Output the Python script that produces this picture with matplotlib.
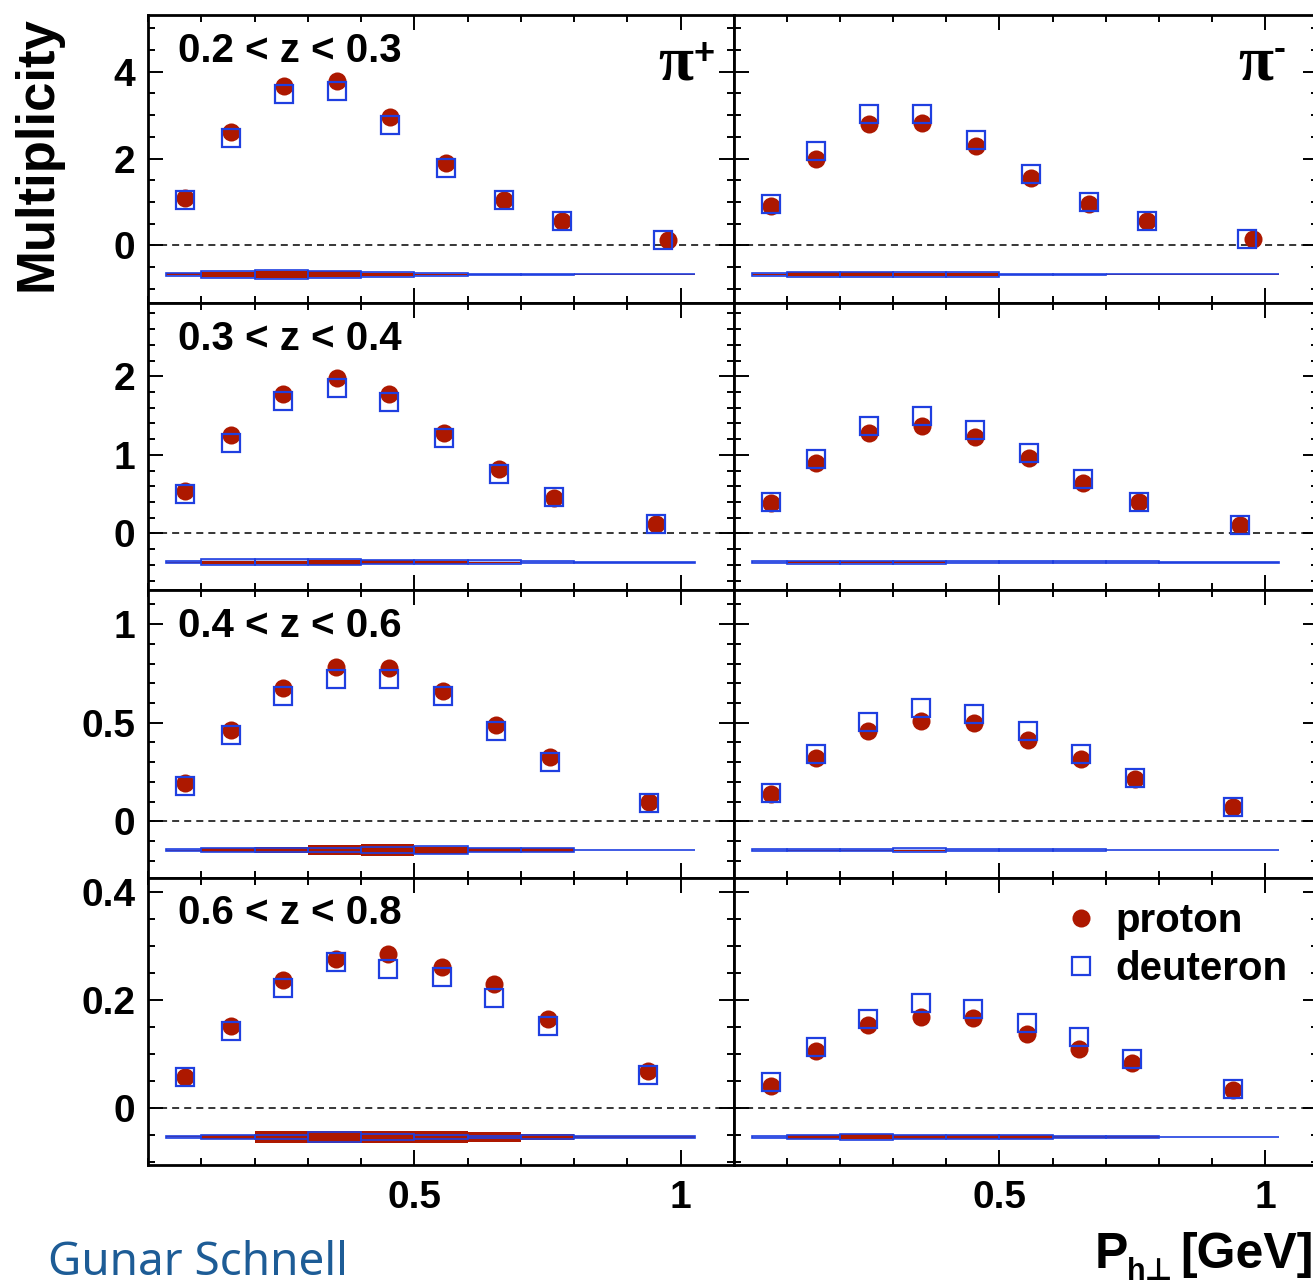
import matplotlib
matplotlib.use("Agg")
import matplotlib.pyplot as plt
from matplotlib.patches import Rectangle
from matplotlib.ticker import MultipleLocator, FixedLocator

plt.rcParams['font.family'] = ['Liberation Sans', 'DejaVu Sans']
plt.rcParams['font.weight'] = 'bold'

# ---------------- data ----------------
z_labels = ["0.2 < z < 0.3", "0.3 < z < 0.4", "0.4 < z < 0.6", "0.6 < z < 0.8"]
hadron_sign = ["+", "-"]

# mean P_h_perp per bin (proton / deuteron), one list per z-row
x_proton = [
    [0.070, 0.155, 0.255, 0.355, 0.455, 0.560, 0.668, 0.778, 0.977],
    [0.069, 0.155, 0.254, 0.354, 0.453, 0.556, 0.658, 0.762, 0.953],
    [0.069, 0.155, 0.253, 0.353, 0.452, 0.553, 0.654, 0.755, 0.940],
    [0.069, 0.155, 0.253, 0.352, 0.451, 0.551, 0.650, 0.750, 0.939],
]
x_deuteron = [
    [0.070, 0.155, 0.255, 0.355, 0.455, 0.560, 0.668, 0.778, 0.966],
    [0.069, 0.155, 0.254, 0.354, 0.453, 0.556, 0.658, 0.762, 0.953],
    [0.069, 0.155, 0.253, 0.353, 0.452, 0.553, 0.654, 0.755, 0.940],
    [0.069, 0.155, 0.253, 0.352, 0.451, 0.551, 0.650, 0.750, 0.939],
]

# multiplicities, pi+
pip_proton = [
    [1.10, 2.62, 3.68, 3.79, 2.95, 1.90, 1.04, 0.56, 0.13],
    [0.54, 1.255, 1.774, 1.979, 1.779, 1.277, 0.821, 0.455, 0.123],
    [0.193, 0.464, 0.676, 0.783, 0.776, 0.661, 0.490, 0.327, 0.097],
    [0.057, 0.152, 0.237, 0.275, 0.285, 0.260, 0.230, 0.165, 0.069],
]
pip_deuteron = [
    [1.04, 2.48, 3.49, 3.56, 2.77, 1.79, 1.04, 0.56, 0.13],
    [0.498, 1.157, 1.685, 1.847, 1.668, 1.213, 0.762, 0.460, 0.119],
    [0.181, 0.436, 0.634, 0.724, 0.724, 0.634, 0.456, 0.300, 0.093],
    [0.058, 0.143, 0.221, 0.270, 0.257, 0.242, 0.204, 0.151, 0.062],
]
# multiplicities, pi-
pim_proton = [
    [0.91, 1.99, 2.79, 2.81, 2.29, 1.55, 0.95, 0.55, 0.14],
    [0.383, 0.894, 1.277, 1.362, 1.226, 0.957, 0.638, 0.396, 0.106],
    [0.136, 0.320, 0.459, 0.507, 0.498, 0.410, 0.314, 0.215, 0.071],
    [0.041, 0.106, 0.154, 0.169, 0.166, 0.137, 0.109, 0.083, 0.033],
]
pim_deuteron = [
    [0.94, 2.17, 3.02, 3.02, 2.42, 1.64, 1.00, 0.56, 0.15],
    [0.396, 0.945, 1.362, 1.498, 1.319, 1.021, 0.689, 0.396, 0.111],
    [0.142, 0.341, 0.502, 0.573, 0.544, 0.456, 0.339, 0.222, 0.075],
    [0.048, 0.113, 0.165, 0.194, 0.183, 0.157, 0.131, 0.091, 0.036],
]

# systematic uncertainty bands (half-heights) per P_h_perp bin
bin_edges = [0.034, 0.1, 0.2, 0.3, 0.4, 0.5, 0.6, 0.7, 0.8, 1.026]
pip_sys_proton = [
    [0.023, 0.058, 0.081, 0.069, 0.035, 0.012, 0.012, 0.006, 0.006],
    [0.006, 0.019, 0.019, 0.032, 0.026, 0.019, 0.006, 0.003, 0.003],
    [0.0025, 0.010, 0.015, 0.025, 0.030, 0.018, 0.010, 0.010, 0.001],
    [0.001, 0.0037, 0.011, 0.011, 0.011, 0.011, 0.0093, 0.0056, 0.0019],
]
pip_sys_deuteron = [
    [0.029, 0.075, 0.098, 0.075, 0.064, 0.029, 0.017, 0.017, 0.004],
    [0.010, 0.035, 0.042, 0.035, 0.029, 0.022, 0.022, 0.010, 0.004],
    [0.004, 0.011, 0.009, 0.011, 0.017, 0.019, 0.011, 0.009, 0.0015],
    [0.0014, 0.0042, 0.0032, 0.0088, 0.006, 0.0032, 0.0023, 0.0042, 0.0014],
]
pim_sys_proton = [
    [0.017, 0.046, 0.046, 0.035, 0.035, 0.012, 0.012, 0.006, 0.006],
    [0.003, 0.013, 0.013, 0.013, 0.003, 0.003, 0.003, 0.003, 0.003],
    [0.001, 0.0025, 0.0025, 0.0025, 0.001, 0.001, 0.001, 0.001, 0.001],
    [0.0005, 0.0037, 0.0046, 0.0037, 0.0037, 0.0037, 0.0019, 0.0019, 0.0005],
]
pim_sys_deuteron = [
    [0.029, 0.052, 0.052, 0.052, 0.052, 0.017, 0.017, 0.004, 0.004],
    [0.010, 0.020, 0.020, 0.020, 0.016, 0.016, 0.010, 0.010, 0.004],
    [0.004, 0.006, 0.006, 0.009, 0.004, 0.004, 0.004, 0.0015, 0.0015],
    [0.0014, 0.0042, 0.0051, 0.0042, 0.0042, 0.0042, 0.0023, 0.0023, 0.0006],
]
band_center = [-0.67, -0.366, -0.146, -0.053]

y_limits = [(-1.32, 5.31), (-0.72, 2.94), (-0.285, 1.173), (-0.105, 0.426)]
y_major = [[0, 2, 4], [0, 1, 2], [0, 0.5, 1], [0, 0.2, 0.4]]
y_major_labels = [["0", "2", "4"], ["0", "1", "2"], ["0", "0.5", "1"], ["0", "0.2", "0.4"]]
y_minor_step = [0.5, 0.2, 0.1, 0.05]
x_major = [0.5, 1.0]
x_major_labels = ["0.5", "1"]

RED = '#ad1800'
BLUE = '#1f3fe0'
LIGHTBLUE = '#a9b6f2'

# ---------------- layout ----------------
FW, FH = 1313, 1286
fig = plt.figure(figsize=(FW / 100, FH / 100), dpi=100)
col_left = [148, 734]
col_width = [586, 584]
top0 = 15
row_h = 287.5

data_p = [pip_proton, pim_proton]
data_d = [pip_deuteron, pim_deuteron]
sys_p = [pip_sys_proton, pim_sys_proton]
sys_d = [pip_sys_deuteron, pim_sys_deuteron]

last_ax = None
hp = hd = None
for r in range(4):
    for c in range(2):
        ax = fig.add_axes([col_left[c] / FW, 1 - (top0 + (r + 1) * row_h) / FH,
                           col_width[c] / FW, row_h / FH])
        ax.set_xlim(0, 1.1)
        ax.set_ylim(*y_limits[r])
        ax.axhline(0, color='black', lw=1.1, ls=(0, (4.6, 3.3)), zorder=1)

        # systematic bands
        yb = band_center[r]
        for i in range(len(bin_edges) - 1):
            x0, x1 = bin_edges[i], bin_edges[i + 1]
            sd = sys_d[c][r][i]
            sp = sys_p[c][r][i]
            ax.add_patch(Rectangle((x0, yb - sd), x1 - x0, 2 * sd, facecolor=LIGHTBLUE,
                                   edgecolor='none', zorder=2))
            ax.add_patch(Rectangle((x0, yb - sp), x1 - x0, 2 * sp, facecolor=RED,
                                   edgecolor='none', zorder=3))
            ax.add_patch(Rectangle((x0, yb - sd), x1 - x0, 2 * sd, facecolor='none',
                                   edgecolor=BLUE, lw=1.2, zorder=4))

        hp, = ax.plot(x_proton[r], data_p[c][r], 'o', color=RED, ms=13, mec=RED, mew=0,
                      ls='none', zorder=5, label='proton')
        hd, = ax.plot(x_deuteron[r], data_d[c][r], 's', mfc='none', mec=BLUE, ms=12.6,
                      mew=1.6, ls='none', zorder=6, label='deuteron')

        ax.xaxis.set_major_locator(FixedLocator(x_major))
        ax.xaxis.set_minor_locator(MultipleLocator(0.1))
        ax.yaxis.set_major_locator(FixedLocator(y_major[r]))
        ax.yaxis.set_minor_locator(MultipleLocator(y_minor_step[r]))
        ax.tick_params(which='both', direction='in', top=True, right=True, width=1.4,
                       labelsize=28, color='black')
        ax.tick_params(which='major', length=11)
        ax.tick_params(which='minor', length=5)
        ax.tick_params(axis='y', pad=9)
        ax.tick_params(axis='x', pad=11)
        for s in ax.spines.values():
            s.set_linewidth(2.0)
        if c == 0:
            ax.set_yticklabels(y_major_labels[r])
            ax.text(0.051, 1 - 47 / row_h, z_labels[r], transform=ax.transAxes,
                    fontsize=29, fontweight='bold', ha='left', va='baseline')
        else:
            ax.set_yticklabels([])
        if r == 3:
            ax.set_xticklabels(x_major_labels)
        else:
            ax.set_xticklabels([])
        if r == 0:
            pi_right = (693 - 148) / 586 if c == 0 else (1273 - 734) / 584
            ax.text(pi_right, 1 - 65 / row_h, '\u03c0', transform=ax.transAxes,
                    fontsize=46, fontweight='bold', family='Liberation Serif',
                    ha='right', va='baseline')
            sign_base = 49 if c == 0 else 44
            ax.text(pi_right + 0.001, 1 - sign_base / row_h, hadron_sign[c],
                    transform=ax.transAxes, fontsize=26, fontweight='bold',
                    ha='left', va='baseline')
        last_ax = ax

last_ax.legend([hp, hd], ['proton', 'deuteron'], loc='upper left',
               bbox_to_anchor=((1065 - 734) / 584, (1165 - 902) / row_h),
               frameon=False, fontsize=29, handlelength=0.8, handletextpad=0.45,
               labelspacing=0.25, borderpad=0, borderaxespad=0)

fig.text(38 / FW, 1 - 154 / FH, 'Multiplicity', rotation=90, fontsize=38,
         fontweight='bold', ha='center', va='center')

# x-axis title: P_{h⊥} [GeV] (runs to the right edge as in the original)
fig.text(1095 / FW, 1 - 1268 / FH, 'P', fontsize=36, fontweight='bold',
         ha='left', va='baseline')
fig.text(1127 / FW, 1 - 1280 / FH, 'h\u22a5', fontsize=22, fontweight='bold',
         family=['Liberation Sans', 'DejaVu Sans'], ha='left', va='baseline')
fig.text(1180 / FW, 1 - 1268 / FH, '[GeV]', fontsize=36, fontweight='bold',
         ha='left', va='baseline')

fig.text(48 / FW, 1 - 1275 / FH, 'Gunar Schnell', fontsize=33, fontweight='normal',
         family='Noto Sans', color='#1d5c96', ha='left', va='baseline')

fig.savefig('out.png', dpi=100)
